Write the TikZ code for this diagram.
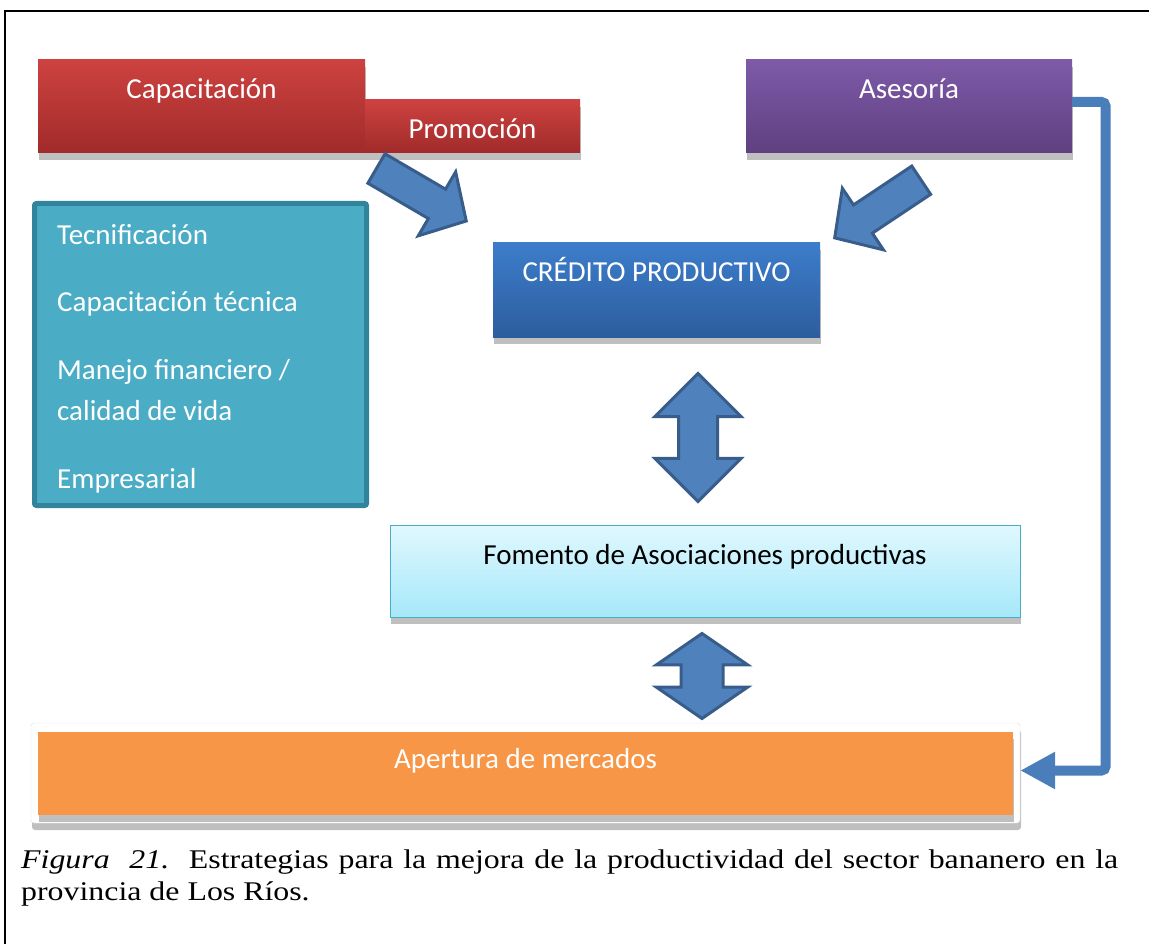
\documentclass[tikz,border=0pt]{standalone}
\usepackage{fontspec}
\setmainfont{Carlito}
\newfontfamily\capfont[FakeStretch=1.18]{Liberation Serif}
\usetikzlibrary{shapes.arrows,shadows,arrows.meta}

\definecolor{redtop}{HTML}{CD4240}
\definecolor{redbot}{HTML}{A02B2A}
\definecolor{violettop}{HTML}{7E5AA8}
\definecolor{violetbot}{HTML}{5F4080}
\definecolor{credtop}{HTML}{3C7DCB}
\definecolor{credbot}{HTML}{2D5D9E}
\definecolor{fomtop}{HTML}{E0F8FE}
\definecolor{fombot}{HTML}{A6E8FA}
\definecolor{tealfill}{HTML}{4BACC6}
\definecolor{tealline}{HTML}{31849B}
\definecolor{orangefill}{HTML}{F79646}
\definecolor{arrowfill}{HTML}{4F81BD}
\definecolor{arrowline}{HTML}{385D8A}
\definecolor{connline}{HTML}{4A7EBB}

\tikzset{
  box/.style={inner xsep=0pt, inner ysep=0pt, text height=39pt, text=white,
    font=\fontsize{29}{35}\selectfont,
    drop shadow={shadow xshift=1pt, shadow yshift=-7pt, opacity=0.25, fill=black}},
  tetext/.style={anchor=base west, inner sep=0pt, text=white, font=\fontsize{29}{35}\selectfont},
  bigarrow/.style={single arrow, draw=arrowline, fill=arrowfill, line width=3pt,
    inner xsep=0pt, inner ysep=15.5pt, minimum height=104pt, minimum width=71pt,
    single arrow head extend=20pt, single arrow tip angle=95},
  updown/.style={double arrow, draw=arrowline, fill=arrowfill, line width=3pt,
    inner xsep=0pt, rotate=90},
  conn/.style={draw=connline, line width=10pt, rounded corners=4pt,
    -{Triangle[length=35pt,width=35pt]}}
}

\begin{document}
\begin{tikzpicture}[x=1pt,y=-1pt]
  \useasboundingbox (0,0) rectangle (1149,944);
  \clip (0,0) rectangle (1149,944);
  \draw[line width=1.5pt] (5,960) -- (5,11) -- (1160,11);

  % top row
  \node[box, shading=axis, top color=redtop, bottom color=redbot,
    minimum width=327pt, minimum height=93pt, text depth=54pt] (CA) at (201.5,106.5) {Capacitación};
  \node[box, shading=axis, top color=redtop, bottom color=redbot,
    minimum width=215pt, minimum height=53pt, text depth=14pt] (PR) at (472.5,126.5) {Promoción};
  \node[box, shading=axis, top color=violettop, bottom color=violetbot,
    minimum width=326pt, minimum height=93pt, text depth=54pt] (AS) at (909,106.5) {Asesoría};

  % left list
  \node[draw=tealline, fill=tealfill, line width=5pt, rounded corners=2pt,
    minimum width=332pt, minimum height=302pt] (TE) at (200.5,354.5) {};
  \node[tetext] (T1) at (57,244) {Tecnificación};
  \node[tetext] (T2) at (57,312) {Capacitación técnica};
  \node[tetext] (T3) at (57,379) {Manejo financiero /};
  \node[tetext] (T4) at (57,420) {calidad de vida};
  \node[tetext] (T5) at (57,488) {Empresarial};

  % centre column
  \node[box, shading=axis, top color=credtop, bottom color=credbot,
    minimum width=327pt, minimum height=94pt, text depth=55pt] (CR) at (656.5,290) {CRÉDITO PRODUCTIVO};
  \node[box, shading=axis, top color=fomtop, bottom color=fombot, draw=tealfill, line width=1pt, text=black,
    minimum width=630pt, minimum height=92pt, text depth=53pt] (FO) at (705,571) {Fomento de Asociaciones productivas};
  \node[box, fill=white, draw=black!12, rounded corners=3pt,
    minimum width=989pt, minimum height=100pt] (APF) at (525.5,773) {};
  \node[box, fill=orangefill, drop shadow={opacity=0}, text height=36pt,
    minimum width=975pt, minimum height=83pt, text depth=47pt] (AP) at (525.5,773.5) {Apertura de mercados};

  % block arrows
  \node[bigarrow, rotate=-30.3, anchor=tip] (AL) at (468,222) {};
  \node[bigarrow, rotate=-146.3, anchor=tip] (AR) at (833,239) {};
  \node[updown, inner ysep=18pt, minimum height=128pt, minimum width=83pt,
    double arrow head extend=23.5pt, double arrow tip angle=90] (D1) at (698,437.5) {};
  \node[updown, inner ysep=19.5pt, minimum height=85pt, minimum width=88pt,
    double arrow head extend=24.5pt, double arrow tip angle=111] (D2) at (702,676) {};

  % connector
  \coordinate (TURN1) at (1105.5,102);
  \coordinate (TURN2) at (1105.5,770.5);
  \draw[conn] ([yshift=4.5pt]AS.east) -- (TURN1) -- (TURN2) -- ([yshift=2.5pt]APF.east);

  % caption
  \node[anchor=base west, inner sep=0pt, text width=1097pt, align=justify,
    font=\capfont\fontsize{27}{32}\selectfont] (CAP) at (21,868)
    {\textit{Figura\ \ 21.}\ \ Estrategias para la mejora de la productividad del sector bananero en la\linebreak provincia de Los Ríos.};
\end{tikzpicture}
\end{document}
